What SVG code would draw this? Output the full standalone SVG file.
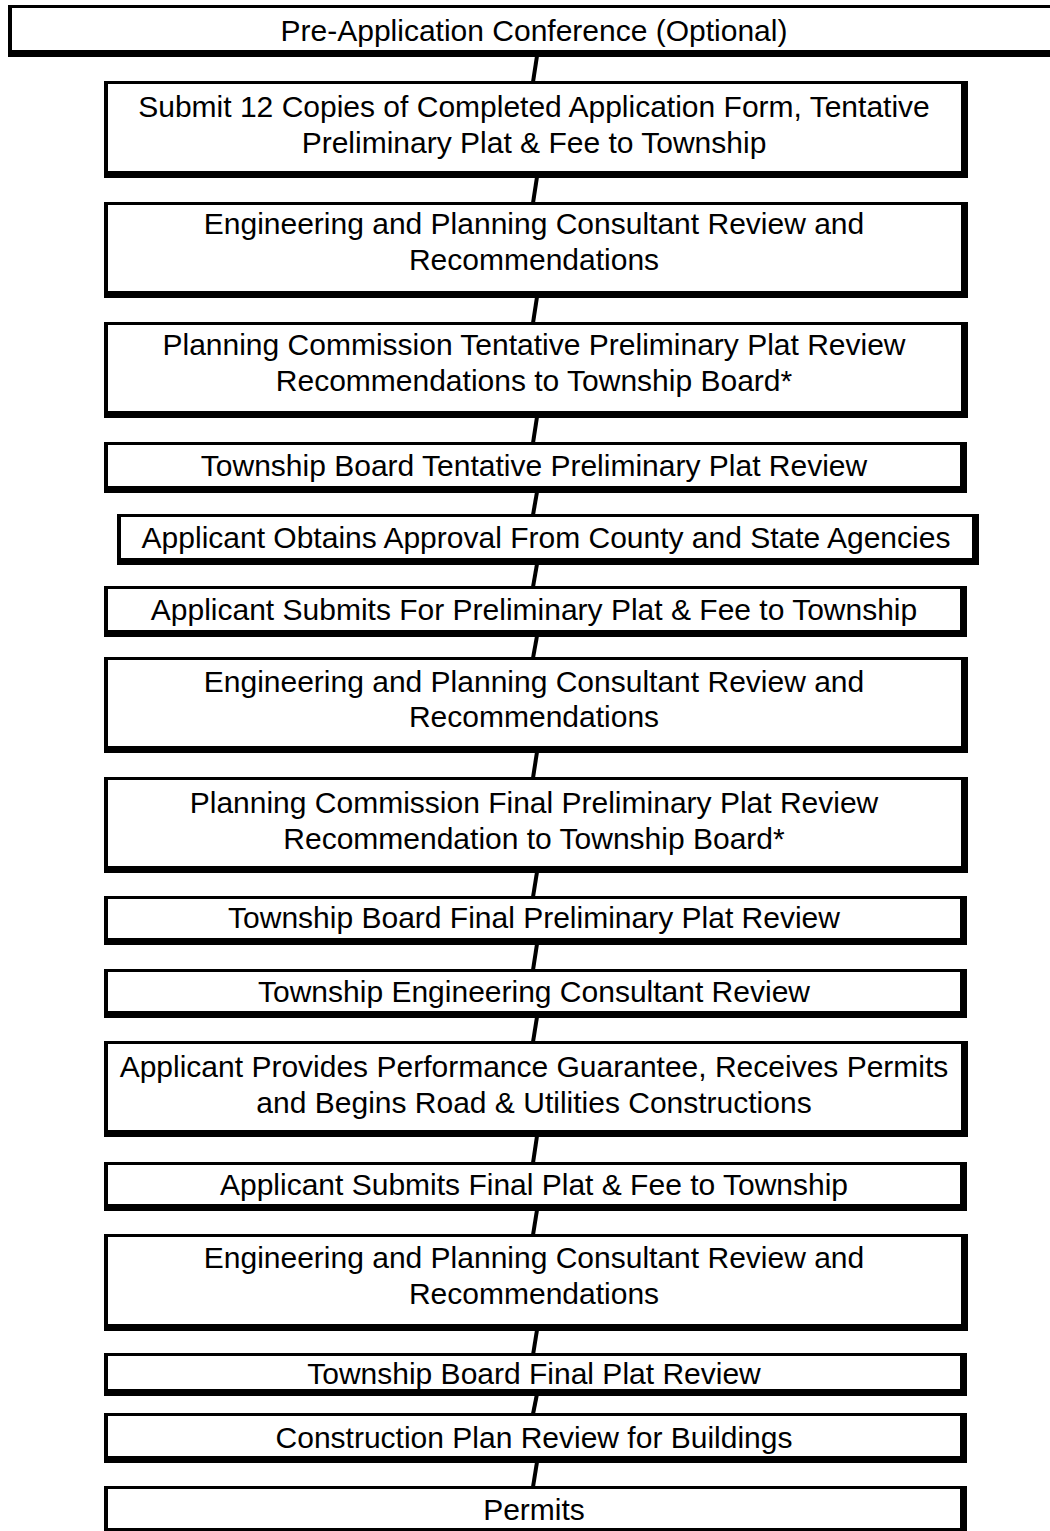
<svg xmlns="http://www.w3.org/2000/svg" width="1050" height="1531" viewBox="0 0 1050 1531">
<style>
.o{fill:#000}
.i{fill:#fff}
text{font-family:"Liberation Sans",Arial,sans-serif;font-size:30px;fill:#000;text-anchor:middle}
#connectors line{stroke:#000;stroke-width:4}
</style>
<rect width="1050" height="1531" fill="#fff"/>
<g id="connectors">
<line x1="537" y1="56" x2="533" y2="82"/>
<line x1="537" y1="177" x2="533" y2="203"/>
<line x1="537" y1="297" x2="533" y2="323"/>
<line x1="537" y1="417" x2="533" y2="443"/>
<line x1="537" y1="492" x2="533" y2="515"/>
<line x1="537" y1="564" x2="533" y2="587"/>
<line x1="537" y1="636" x2="533" y2="658"/>
<line x1="537" y1="752" x2="533" y2="778"/>
<line x1="537" y1="872" x2="533" y2="897"/>
<line x1="537" y1="944" x2="533" y2="970"/>
<line x1="537" y1="1017" x2="533" y2="1042"/>
<line x1="537" y1="1136" x2="533" y2="1163"/>
<line x1="537" y1="1210" x2="533" y2="1235"/>
<line x1="537" y1="1330" x2="533" y2="1355"/>
<line x1="537" y1="1394" x2="533" y2="1414"/>
<line x1="537" y1="1462" x2="533" y2="1487"/>
</g>
<g id="n1"><rect class="o" x="8" y="5" width="1052" height="52"/><rect class="i" x="12" y="8" width="1048" height="42"/><text x="534" y="41">Pre-Application Conference (Optional)</text></g>
<g id="n2"><rect class="o" x="104" y="81" width="864" height="97"/><rect class="i" x="108" y="84" width="853" height="87"/><text x="534" y="117">Submit 12 Copies of Completed Application Form, Tentative</text><text x="534" y="153">Preliminary Plat &amp; Fee to Township</text></g>
<g id="n3"><rect class="o" x="104" y="202" width="864" height="96"/><rect class="i" x="108" y="205" width="853" height="86"/><text x="534" y="234">Engineering and Planning Consultant Review and</text><text x="534" y="270">Recommendations</text></g>
<g id="n4"><rect class="o" x="104" y="322" width="864" height="96"/><rect class="i" x="108" y="325" width="853" height="86"/><text x="534" y="355">Planning Commission Tentative Preliminary Plat Review</text><text x="534" y="391">Recommendations to Township Board*</text></g>
<g id="n5"><rect class="o" x="104" y="442" width="863" height="51"/><rect class="i" x="108" y="445" width="852" height="41"/><text x="534" y="476">Township Board Tentative Preliminary Plat Review</text></g>
<g id="n6"><rect class="o" x="117" y="514" width="862" height="51"/><rect class="i" x="121" y="517" width="851" height="41"/><text x="546" y="548">Applicant Obtains Approval From County and State Agencies</text></g>
<g id="n7"><rect class="o" x="104" y="586" width="863" height="51"/><rect class="i" x="108" y="589" width="852" height="41"/><text x="534" y="620">Applicant Submits For Preliminary Plat &amp; Fee to Township</text></g>
<g id="n8"><rect class="o" x="104" y="657" width="864" height="96"/><rect class="i" x="108" y="660" width="853" height="86"/><text x="534" y="692">Engineering and Planning Consultant Review and</text><text x="534" y="727">Recommendations</text></g>
<g id="n9"><rect class="o" x="104" y="777" width="864" height="96"/><rect class="i" x="108" y="780" width="853" height="86"/><text x="534" y="813">Planning Commission Final Preliminary Plat Review</text><text x="534" y="849">Recommendation to Township Board*</text></g>
<g id="n10"><rect class="o" x="104" y="896" width="863" height="49"/><rect class="i" x="108" y="899" width="852" height="39"/><text x="534" y="928">Township Board Final Preliminary Plat Review</text></g>
<g id="n11"><rect class="o" x="104" y="969" width="863" height="49"/><rect class="i" x="108" y="972" width="852" height="39"/><text x="534" y="1002">Township Engineering Consultant Review</text></g>
<g id="n12"><rect class="o" x="104" y="1041" width="864" height="96"/><rect class="i" x="108" y="1044" width="853" height="86"/><text x="534" y="1077">Applicant Provides Performance Guarantee, Receives Permits</text><text x="534" y="1113">and Begins Road &amp; Utilities Constructions</text></g>
<g id="n13"><rect class="o" x="104" y="1162" width="863" height="49"/><rect class="i" x="108" y="1165" width="852" height="39"/><text x="534" y="1195">Applicant Submits Final Plat &amp; Fee to Township</text></g>
<g id="n14"><rect class="o" x="104" y="1234" width="864" height="97"/><rect class="i" x="108" y="1237" width="853" height="87"/><text x="534" y="1268">Engineering and Planning Consultant Review and</text><text x="534" y="1304">Recommendations</text></g>
<g id="n15"><rect class="o" x="104" y="1353" width="863" height="43"/><rect class="i" x="108" y="1356" width="852" height="33"/><text x="534" y="1384">Township Board Final Plat Review</text></g>
<g id="n16"><rect class="o" x="104" y="1413" width="863" height="50"/><rect class="i" x="108" y="1416" width="852" height="40"/><text x="534" y="1448">Construction Plan Review for Buildings</text></g>
<g id="n17"><rect class="o" x="104" y="1486" width="863" height="45"/><rect class="i" x="108" y="1489" width="852" height="39"/><text x="534" y="1520">Permits</text></g>
</svg>
